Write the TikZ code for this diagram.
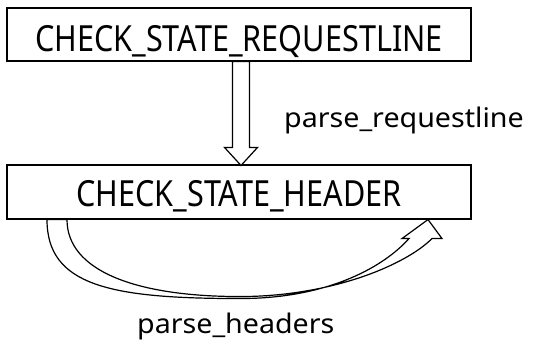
\documentclass[tikz,border=0pt]{standalone}
\usepackage{fontspec}
\newfontfamily\statefont[FakeStretch=0.85]{Noto Sans}
\newfontfamily\labelfont[FakeStretch=1.06]{Noto Sans}
\usetikzlibrary{calc}
\begin{document}
\begin{tikzpicture}[x=1pt,y=-1pt,
  state/.style={draw, line width=1.1pt, minimum width=464pt, inner xsep=0pt, inner ysep=0pt,
    font=\statefont\fontsize{36}{40}\selectfont},
  hollow/.style={draw, line width=1.2pt, fill=white, line join=miter},
  lbl/.style={inner sep=0pt, anchor=base west, font=\labelfont\fontsize{27}{32}\selectfont}]
\useasboundingbox (0,0) rectangle (535,348);

% the two parser states
\node[state, text height=43pt, text depth=10pt] (req) at (239,34.5) {CHECK\_STATE\_REQUESTLINE};
\node[state, text height=41pt, text depth=13pt] (hdr) at (239,192) {CHECK\_STATE\_HEADER};

% transition labels
\node[lbl] (l1) at (284,127) {parse\_requestline};
\node[lbl] (l2) at (137,333) {parse\_headers};

% hollow block arrow: request line -> header
\coordinate (s) at ($(req.south)+(2,0)$);
\coordinate (e) at ($(hdr.north)+(2,1)$);
\draw[hollow] ($(s)+(-8.5,0)$) -- ($(e)+(-8.5,-18)$) -- ($(e)+(-16.5,-18)$) -- (e)
  -- ($(e)+(16.5,-18)$) -- ($(e)+(8.5,-18)$) -- ($(s)+(8.5,0)$) -- cycle;

% curved hollow arrow: header loops back to itself
\begin{scope}[shift={(hdr.south)}]
\draw[hollow] (-192,0) .. controls (-192,66) and (-129,79) .. (1,79)
  .. controls (91,79) and (146,46) .. (170,19)
  -- (163,19) -- (189,0) -- (203,19) -- (193,19)
  .. controls (166,46) and (91,77) .. (1,77)
  .. controls (-104,77) and (-172,51) .. (-172,0) -- cycle;
\end{scope}
\end{tikzpicture}
\end{document}
